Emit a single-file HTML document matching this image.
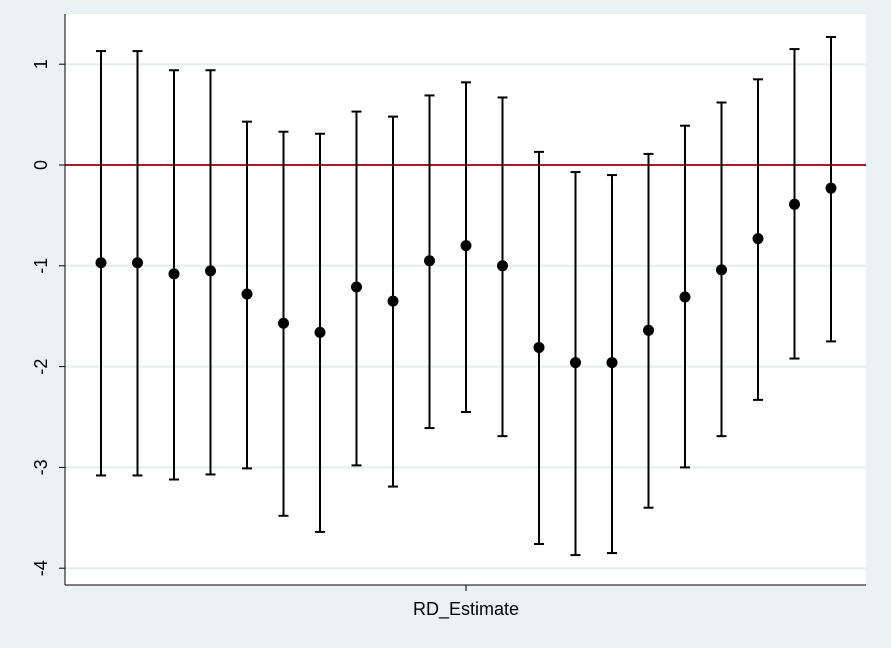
<!DOCTYPE html>
<html><head><meta charset="utf-8"><style>
body{margin:0;background:#eaf2f3;}
svg{display:block;font-family:"Liberation Sans",sans-serif;}
</style></head><body>
<svg id="chart" width="891" height="648">
<rect x="0" y="0" width="891" height="648" fill="#eaf2f3"/>
<rect x="65" y="14" width="801" height="571" fill="#ffffff"/>
<g id="grid"></g><g id="yaxis"></g><g id="marks"></g>
<line x1="65" y1="14" x2="65" y2="585" stroke="#000" stroke-width="1"/>
<line x1="65" y1="585" x2="866" y2="585" stroke="#000" stroke-width="1"/>
<line x1="466" y1="585" x2="466" y2="591" stroke="#000"/>
<text x="466" y="615" font-size="18" text-anchor="middle">RD_Estimate</text>
</svg>
<script>
const estimates=[-0.97,-0.97,-1.08,-1.05,-1.28,-1.57,-1.66,-1.21,-1.35,-0.95,-0.80,-1.00,-1.81,-1.96,-1.96,-1.64,-1.31,-1.04,-0.73,-0.39,-0.23];
const upper=[1.13,1.13,0.94,0.94,0.43,0.33,0.31,0.53,0.48,0.69,0.82,0.67,0.13,-0.07,-0.10,0.11,0.39,0.62,0.85,1.15,1.27];
const lower=[-3.08,-3.08,-3.12,-3.07,-3.01,-3.48,-3.64,-2.98,-3.19,-2.61,-2.45,-2.69,-3.76,-3.87,-3.85,-3.40,-3.00,-2.69,-2.33,-1.92,-1.75];
const yTicks=[1,0,-1,-2,-3,-4];
const NS="http://www.w3.org/2000/svg";
const y=v=>165-v*100.8;
const x=i=>101+i*36.5;
function mk(tag,attrs,parent){const e=document.createElementNS(NS,tag);for(const k in attrs)e.setAttribute(k,attrs[k]);document.getElementById(parent).appendChild(e);return e;}
yTicks.forEach(t=>{
  if(t!==0){const g=mk('line',{x1:65,x2:866,y1:y(t),y2:y(t),stroke:'#e6ecec','stroke-width':2},'grid');
  
  }
  const tk=mk('line',{x1:59,x2:65,y1:y(t),y2:y(t),stroke:'#000'},'yaxis');
  
  
  const tx=mk('text',{x:0,y:0,'font-size':18,'text-anchor':'middle',transform:`translate(47,${y(t)}) rotate(-90)`},'yaxis');
  tx.textContent=t;
  
  
});
const ref=mk('line',{x1:65,x2:866,y1:y(0),y2:y(0),stroke:'#b0172c','stroke-width':2},'grid');


estimates.forEach((v,i)=>{
  const cx=x(i);
  const l=mk('line',{x1:cx,x2:cx,y1:y(upper[i]),y2:y(lower[i]),stroke:'#000','stroke-width':2},'marks');
  
  
  [upper[i],lower[i]].forEach(c=>{
    const cap=mk('line',{x1:cx-5,x2:cx+5,y1:y(c),y2:y(c),stroke:'#000','stroke-width':2},'marks');
    
    
  });
  const p=mk('circle',{cx:cx,cy:y(v),r:5.5,fill:'#000'},'marks');
  
  
});
</script>
</body></html>
